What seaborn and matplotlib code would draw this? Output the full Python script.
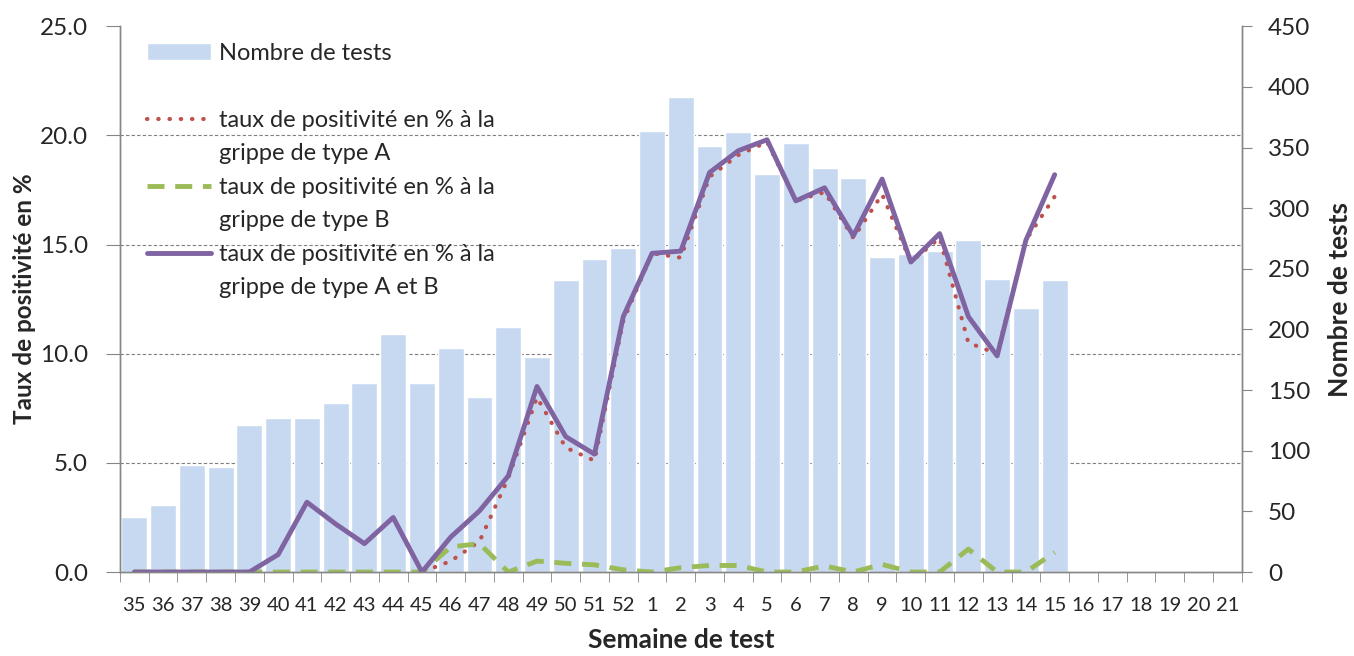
import numpy as np
import pandas as pd
import matplotlib
matplotlib.use('Agg')
import matplotlib.pyplot as plt
from matplotlib.lines import Line2D
from matplotlib.ticker import MultipleLocator, FixedLocator
import seaborn as sns

# Semaines de test (saison 35 -> 21)
semaines = [str(s) for s in range(35, 53)] + [str(s) for s in range(1, 22)]

# Nombre de tests par semaine (jusqu'à la semaine 15)
nb_tests = [45, 55, 88, 87, 121, 127, 127, 139, 156, 196, 156, 185, 144, 202, 177, 241,
            258, 267, 364, 392, 351, 363, 328, 354, 333, 325, 260, 262, 265, 274, 242, 218, 241]

# Taux de positivité en %
taux_a = [0, 0, 0, 0, 0, 0.8, 3.2, 2.2, 1.3, 2.5, 0, 0.5, 1.4, 4.3, 8.0, 5.7,
          5.1, 11.5, 14.6, 14.4, 18.1, 19.1, 19.7, 17.0, 17.4, 15.3, 17.3, 14.2, 15.3, 10.5, 10.0, 15.2, 17.2]
taux_b = [0, 0, 0, 0, 0, 0, 0, 0, 0, 0, 0, 1.15, 1.3, 0, 0.5, 0.4,
          0.33, 0.1, 0, 0.2, 0.3, 0.3, 0, 0, 0.28, 0, 0.35, 0, 0, 1.05, 0, 0, 0.9]
taux_ab = [0, 0, 0, 0, 0, 0.8, 3.2, 2.2, 1.3, 2.5, 0, 1.6, 2.8, 4.4, 8.5, 6.2,
           5.4, 11.7, 14.6, 14.7, 18.3, 19.3, 19.8, 17.0, 17.6, 15.4, 18.0, 14.2, 15.5, 11.7, 9.9, 15.2, 18.2]

n = len(semaines)
manque = [np.nan] * (n - len(nb_tests))
df = pd.DataFrame({
    'semaine': semaines,
    'pos': np.arange(n),
    'tests': nb_tests + manque,
    'A': taux_a + manque,
    'B': taux_b + manque,
    'AB': taux_ab + manque,
})

sns.set_style('white')
plt.rcParams['font.family'] = ['Lato', 'DejaVu Sans']
gris = '#868686'
texte = '#262626'

fig, ax = plt.subplots(figsize=(13.54, 6.56), dpi=100)
fig.subplots_adjust(left=0.0886, right=0.917, bottom=0.128, top=0.960)
ax2 = ax.twinx()

# Barres : nombre de tests (axe de droite)
sns.barplot(data=df, x='semaine', y='tests', order=semaines, ax=ax2, color='#C6D9F1',
            saturation=1, width=0.9, label='Nombre de tests')

# Courbes : taux de positivité (axe de gauche)
sns.lineplot(data=df, x='pos', y='A', ax=ax, color='#C0504D', linewidth=3,
             linestyle=(0, (0.1, 2.6)), dash_capstyle='round', label='A')
sns.lineplot(data=df, x='pos', y='B', ax=ax, color='#9BBB59', linewidth=3.5,
             linestyle=(0, (3.5, 2.2)), label='B')
sns.lineplot(data=df, x='pos', y='AB', ax=ax, color='#8064A2', linewidth=3.5, label='AB')

ax.set_zorder(ax2.get_zorder() + 1)
ax.patch.set_visible(False)

# Axes
ax.set_xlim(-0.5, n - 0.5)
ax.set_ylim(0, 25)
ax2.set_ylim(0, 450)
ax.set_yticks(np.arange(0, 26, 5))
ax.set_yticklabels([f'{v:.1f}' for v in np.arange(0, 26, 5)])
ax2.set_yticks(np.arange(0, 451, 50))
ax.set_xticks(np.arange(n))
ax.set_xticklabels(semaines)
ax.xaxis.set_minor_locator(FixedLocator(np.arange(-0.5, n, 1)))

ax2.yaxis.set_minor_locator(MultipleLocator(90))
ax2.grid(axis='y', which='minor', color='#7f7f7f', linestyle=(0, (3, 2)), linewidth=0.8)
ax2.grid(axis='y', which='major', visible=False)
ax2.set_axisbelow(True)

for a in (ax, ax2):
    a.spines['top'].set_visible(False)
    for s in ('left', 'right', 'bottom'):
        a.spines[s].set_color(gris)
        a.spines[s].set_linewidth(1)

ax.tick_params(axis='y', which='major', direction='out', length=10, color=gris,
               labelsize=17.5, labelcolor=texte, pad=13, left=True)
ax2.tick_params(axis='y', which='major', direction='out', length=7, color=gris,
                labelsize=17.5, labelcolor=texte, pad=12, right=True)
ax2.tick_params(axis='y', which='minor', length=0)
ax.tick_params(axis='x', which='major', length=0, labelsize=14.5, labelcolor=texte, pad=18)
ax.tick_params(axis='x', which='minor', direction='out', length=7, color=gris, bottom=True)

ax.set_xlabel('Semaine de test', fontsize=19, fontweight='bold', color=texte, labelpad=10)
ax.set_ylabel('Taux de positivité en %', fontsize=17.5, fontweight='bold', color=texte, labelpad=3)
ax2.set_ylabel('Nombre de tests', fontsize=19, fontweight='bold', color=texte, labelpad=13)

# Légende
h_bar, _ = ax2.get_legend_handles_labels()
h_lines, _ = ax.get_legend_handles_labels()
vide = Line2D([], [], color='none')
handles = [h_bar[0], vide, h_lines[0], vide, h_lines[1], vide, h_lines[2], vide]
labels = ['Nombre de tests', '',
          'taux de positivité en % à la', 'grippe de type A',
          'taux de positivité en % à la', 'grippe de type B',
          'taux de positivité en % à la', 'grippe de type A et B']
if ax2.get_legend() is not None:
    ax2.get_legend().remove()
ax.legend(handles, labels, loc='upper left', bbox_to_anchor=(0.005, 1.0085), frameon=False,
          fontsize=17, handlelength=2.7, handletextpad=0.34, labelspacing=0.53,
          labelcolor=texte)

fig.savefig('out.png', dpi=100)
